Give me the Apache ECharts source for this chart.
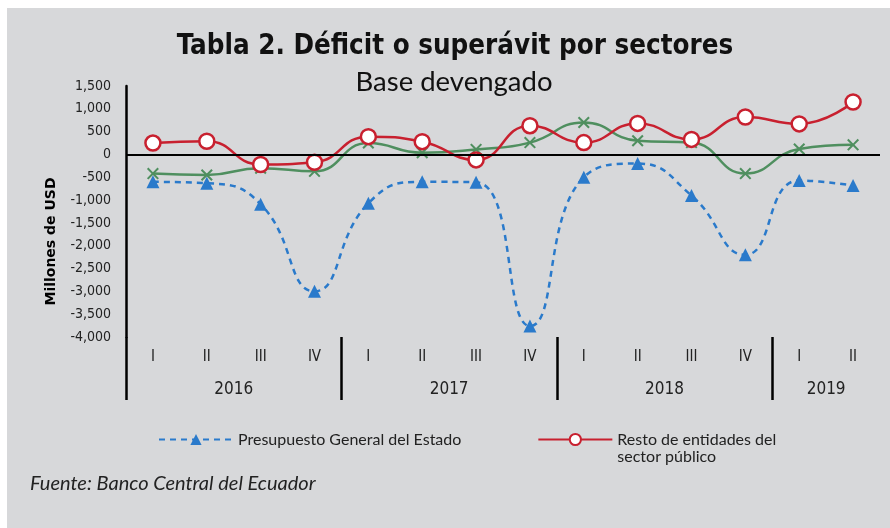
<!DOCTYPE html>
<html>
<head>
<meta charset="utf-8">
<script src="https://cdn.jsdelivr.net/npm/echarts@6/dist/echarts.min.js"></script>
<style>
html,body{margin:0;padding:0;background:#ffffff;}
#wrap{position:absolute;left:7px;top:8px;width:883px;height:520px;background:#d7d8da;}
#chart{width:883px;height:520px;}
</style>
</head>
<body>
<div id="wrap"><div id="chart"></div></div>
<script>
// ---- data ----
var quarters = ['I','II','III','IV','I','II','III','IV','I','II','III','IV','I','II'];
var years = ['2016','2017','2018','2019'];
var quartersPerYear = [4,4,4,2];
var yTicks = {min:-4000, max:1500, interval:500};
var seriesNames = ['Presupuesto General del Estado','Resto de entidades del sector público','Sector Público No Financiero'];
var pge   = [-600, -630, -1090, -3000, -1070, -600, -610, -3760, -500, -200, -900, -2200, -570, -680];
var resto = [250, 290, -220, -170, 390, 280, -120, 630, 260, 680, 330, 820, 670, 1150];
var spnf  = [-420, -450, -300, -370, 250, 40, 110, 260, 700, 300, 260, -420, 120, 210];

// boundary axis (15 points) built from year groups
var boundaryLabels = [];
var boundaryTicks = {};
(function(){
  var n = quarters.length + 1;
  for (var i=0;i<n;i++) boundaryLabels.push('');
  var start = 0;
  for (var k=0;k<years.length;k++){
    boundaryTicks[start] = true;
    var mid = start + quartersPerYear[k]/2;
    boundaryLabels[Math.round(mid)] = years[k];
    start += quartersPerYear[k];
  }
})();

var condensed = "'DejaVu Sans Condensed','Liberation Sans Narrow',sans-serif";
var chart = echarts.init(document.getElementById('chart'));
var xShape = 'path://M0,1.2L1.2,0L5,3.8L8.8,0L10,1.2L6.2,5L10,8.8L8.8,10L5,6.2L1.2,10L0,8.8L3.8,5Z';

chart.setOption({
  animation:false,
  title:[
    {text:'Tabla 2. Déficit o superávit por sectores', left:448, textAlign:'center', top:25, padding:0,
     textStyle:{fontFamily:condensed, fontWeight:'bold', fontSize:27.5, color:'#111'}},
    {text:'Base devengado', left:447, textAlign:'center', top:60, padding:0,
     textStyle:{fontFamily:'Lato', fontWeight:'normal', fontSize:27.5, color:'#111'}},
    {text:'Fuente: Banco Central del Ecuador', left:18, top:461,
     textStyle:{fontFamily:'Lato', fontStyle:'italic', fontWeight:'normal', fontSize:20, color:'#222'}}
  ],
  legend:{
    data:[seriesNames[0], seriesNames[1]],
    left:146, top:401, itemWidth:74, itemHeight:14, itemGap:76, itemTextGap:7,
    formatter:function(n){ return n===seriesNames[1] ? ' \nResto de entidades del\nsector público' : n; },
    textStyle:{fontFamily:'Lato', fontSize:16, color:'#222', lineHeight:17},
    inactiveColor:'#999'
  },
  grid:{left:119, right:10, top:78, bottom:191, containLabel:false},
  xAxis:[
    {type:'category', data:quarters, position:'bottom',
     axisLine:{show:false, onZero:false}, axisTick:{show:false},
     axisLabel:{interval:0, margin:13, fontFamily:condensed, fontSize:15, color:'#222'},
     splitLine:{show:false}},
    {type:'category', data:boundaryLabels, boundaryGap:false, position:'bottom',
     axisLine:{show:false, onZero:false},
     axisTick:{show:true, inside:false, length:63, interval:function(i){return !!boundaryTicks[i];},
               lineStyle:{color:'#000', width:2.5}},
     axisLabel:{interval:0, margin:44, fontFamily:condensed, fontSize:17, color:'#222'},
     splitLine:{show:false}}
  ],
  yAxis:{type:'value', min:yTicks.min, max:yTicks.max, interval:yTicks.interval,
    name:'Millones de USD', nameLocation:'middle', nameGap:68, nameRotate:90,
    nameTextStyle:{fontFamily:"'DejaVu Sans',sans-serif", fontWeight:'bold', fontSize:14, color:'#000', padding:[0,60,0,0]},
    axisLine:{show:true, lineStyle:{color:'#000', width:2.5}},
    axisTick:{show:false},
    splitLine:{show:false},
    axisLabel:{margin:15, fontFamily:condensed, fontSize:14, color:'#222',
      formatter:function(v){ return echarts.format.addCommas(v); }}
  },
  series:[
    {name:seriesNames[2], type:'line', data:spnf, smooth:0.5, xAxisIndex:0,
     symbol:xShape, symbolSize:12, showAllSymbol:true,
     lineStyle:{color:'#4f8f5f', width:2.5}, itemStyle:{color:'#4f8f5f'},
     markLine:{silent:true, symbol:'none', label:{show:false},
       lineStyle:{color:'#000', width:2, type:'solid'}, data:[{yAxis:0}]}, z:2},
    {name:seriesNames[1], type:'line', data:resto, smooth:0.5, xAxisIndex:0,
     symbol:'circle', symbolSize:15, showAllSymbol:true,
     lineStyle:{color:'#c8202f', width:2.5},
     itemStyle:{color:'#ffffff', borderColor:'#c8202f', borderWidth:2.5}, z:3},
    {name:seriesNames[0], type:'line', data:pge, smooth:0.5, xAxisIndex:0,
     symbol:'triangle', symbolSize:13, showAllSymbol:true,
     lineStyle:{color:'#2a7acb', width:2.5, type:[6,5]},
     itemStyle:{color:'#2a7acb'}, z:4}
  ]
});
</script>
</body>
</html>
